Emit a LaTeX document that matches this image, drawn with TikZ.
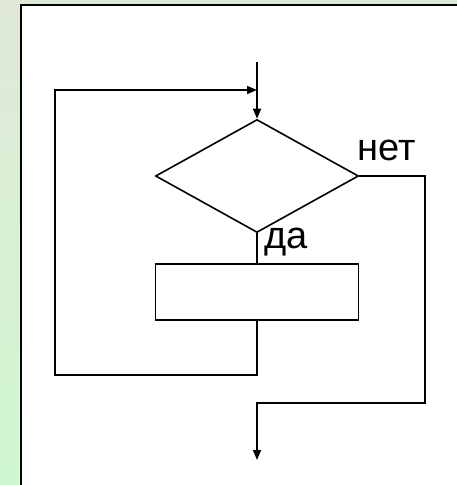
\documentclass[tikz,border=0pt]{standalone}
\usepackage{fontspec}
\setmainfont{Liberation Sans}
\usetikzlibrary{shapes.geometric,positioning,arrows.meta}

\begin{document}
\begin{tikzpicture}[x = 1pt, y = -1pt, line width = 1.6pt, >={Triangle[length=10pt,width=8pt]}]
    \tikzstyle{block} = [draw, rectangle, minimum width = 203pt, minimum height = 56pt, inner sep = 0pt];
    \tikzstyle{cond} = [draw, diamond, minimum width = 203pt, minimum height = 113pt, inner sep = 0pt];
    \tikzstyle{lbl} = [inner sep = 0pt, font = \fontsize{38}{38}\selectfont];
    % frame:
    \useasboundingbox (0,0) rectangle (457,485);
    \fill[top color = {rgb,255:red,224;green,232;blue,216}, bottom color = {rgb,255:red,208;green,248;blue,208}] (0,0) rectangle (457,485);
    \fill[white] (21,5) rectangle (457,485);
    \draw[line width = 2.6pt] (21,485) -- (21,5) -- (457,5);
    % points:
    \node[cond] (d) at (257,176){};
    \node[block, below = 30pt of d] (b){};
    \coordinate (in) at (257,62);
    \coordinate (j) at (257,90);
    \coordinate (l1) at (257,375);
    \coordinate (l2) at (55,375);
    \coordinate (l3) at (55,90);
    \coordinate (r1) at (425,176);
    \coordinate (r2) at (425,403);
    \coordinate (r3) at (257,403);
    \coordinate (out) at (257,460);
    \node[lbl, anchor = base west] (no) at (357,160){нет};
    \node[lbl, anchor = base west] (yes) at (264,248){да};
    % lines:
    \draw[->] (in) -- (d.north);
    \draw (d.south) -- (b.north);
    \draw[->] (b.south) -- (l1) -- (l2) -- (l3) -- (j);
    \draw[->] (d.east) -- (r1) -- (r2) -- (r3) -- (out);
\end{tikzpicture}
\end{document}
